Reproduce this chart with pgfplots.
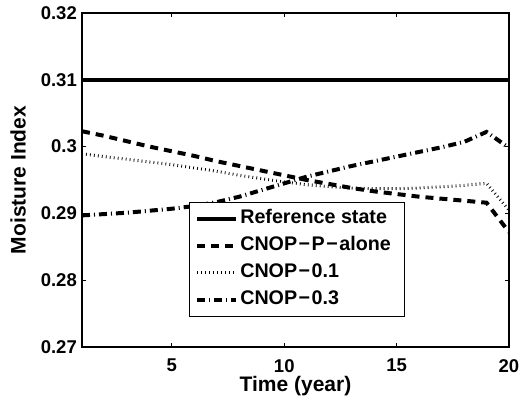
\documentclass[border=0pt]{standalone}
\usepackage{fontspec}
\setmainfont{Liberation Sans}
\usepackage{pgfplots}
\pgfplotsset{compat=1.18}
\newcommand\lf[1]{\makebox[157pt][l]{\bfseries\fontsize{19.7}{23}\selectfont #1}}
\newcommand\mn{\kern1.5pt−\kern1.5pt}

\pgfplotstableread{
t   refstate palone  cnopa  cnopb
1   0.310   0.3023  0.2989  0.2897
2   0.310   0.3016  0.2985  0.2899
3   0.310   0.3008  0.2981  0.2901
4   0.310   0.3000  0.2977  0.2904
5   0.310   0.2993  0.2973  0.2907
6   0.310   0.2986  0.2968  0.2911
7   0.310   0.2978  0.2963  0.2917
8   0.310   0.2971  0.2957  0.2925
9   0.310   0.2964  0.2952  0.2935
10  0.310   0.2957  0.2947  0.2945
11  0.310   0.2950  0.2943  0.2955
12  0.310   0.2944  0.2940  0.2963
13  0.310   0.2938  0.2938  0.2971
14  0.310   0.2933  0.2937  0.2978
15  0.310   0.2929  0.2937  0.2985
16  0.310   0.2925  0.2938  0.2992
17  0.310   0.2922  0.2940  0.2999
18  0.310   0.2919  0.2942  0.3007
19  0.310   0.2916  0.2945  0.3022
20  0.310   0.2872  0.2905  0.2998
}\moist

\begin{document}
\begin{tikzpicture}
\begin{axis}[
    name=ax,
    scale only axis,
    width=427pt, height=334pt,
    xmin=1, xmax=20,
    ymin=0.27, ymax=0.32,
    xtick={5,10,15,20},
    xticklabels={5,10,15,20},
    ytick={0.27,0.28,0.29,0.30,0.31,0.32},
    yticklabels={0.27,0.28,0.29,0.3,0.31,0.32},
    font=\bfseries\fontsize{21}{25}\selectfont,
    tick label style={font=\bfseries\fontsize{18.5}{22}\selectfont, inner sep=0pt},
    xticklabel style={yshift=-12pt},
    yticklabel style={xshift=-5pt},
    major tick length=4pt,
    every tick/.style={black, line width=0.8pt},
    axis line style={line width=1.3pt},
    xlabel={Time (year)},
    ylabel={Moisture Index},
    xlabel style={at={(axis description cs:0.5,-0.0868)}, anchor=north, inner sep=0pt},
    ylabel style={at={(axis description cs:-0.1311,0.5)}, anchor=south, inner sep=0pt},
    legend style={
        at={(0.250,0.090)}, anchor=south west,
        draw=black, line width=1.1pt, fill=white,
        inner xsep=5.5pt, inner ysep=3pt,
        nodes={text height=14pt, text depth=4pt, inner ysep=4.5pt, inner xsep=2pt},
        cells={anchor=west},
    },
    legend image code/.code={\draw[#1] (0pt,0pt) -- (39pt,0pt);},
]
\addplot[black, line width=4.5pt] table[x=t, y=refstate] {\moist};
\addlegendentry{\lf{Reference state}}
\addplot[black, line width=4pt, dash pattern=on 8pt off 6pt] table[x=t, y=palone] {\moist};
\addlegendentry{\lf{CNOP\mn P\mn alone}}
\addplot[black, line width=3pt, dash pattern=on 0.8pt off 3.2pt] table[x=t, y=cnopa] {\moist};
\addlegendentry{\lf{CNOP\mn 0.1}}
\addplot[black, line width=4pt, dash pattern=on 8pt off 4pt on 1pt off 4pt] table[x=t, y=cnopb] {\moist};
\addlegendentry{\lf{CNOP\mn 0.3}}
\end{axis}
\pgfresetboundingbox
\path ([shift={(-82pt,-54pt)}]ax.south west) rectangle ([shift={(11pt,13pt)}]ax.north east);
\end{tikzpicture}
\end{document}
